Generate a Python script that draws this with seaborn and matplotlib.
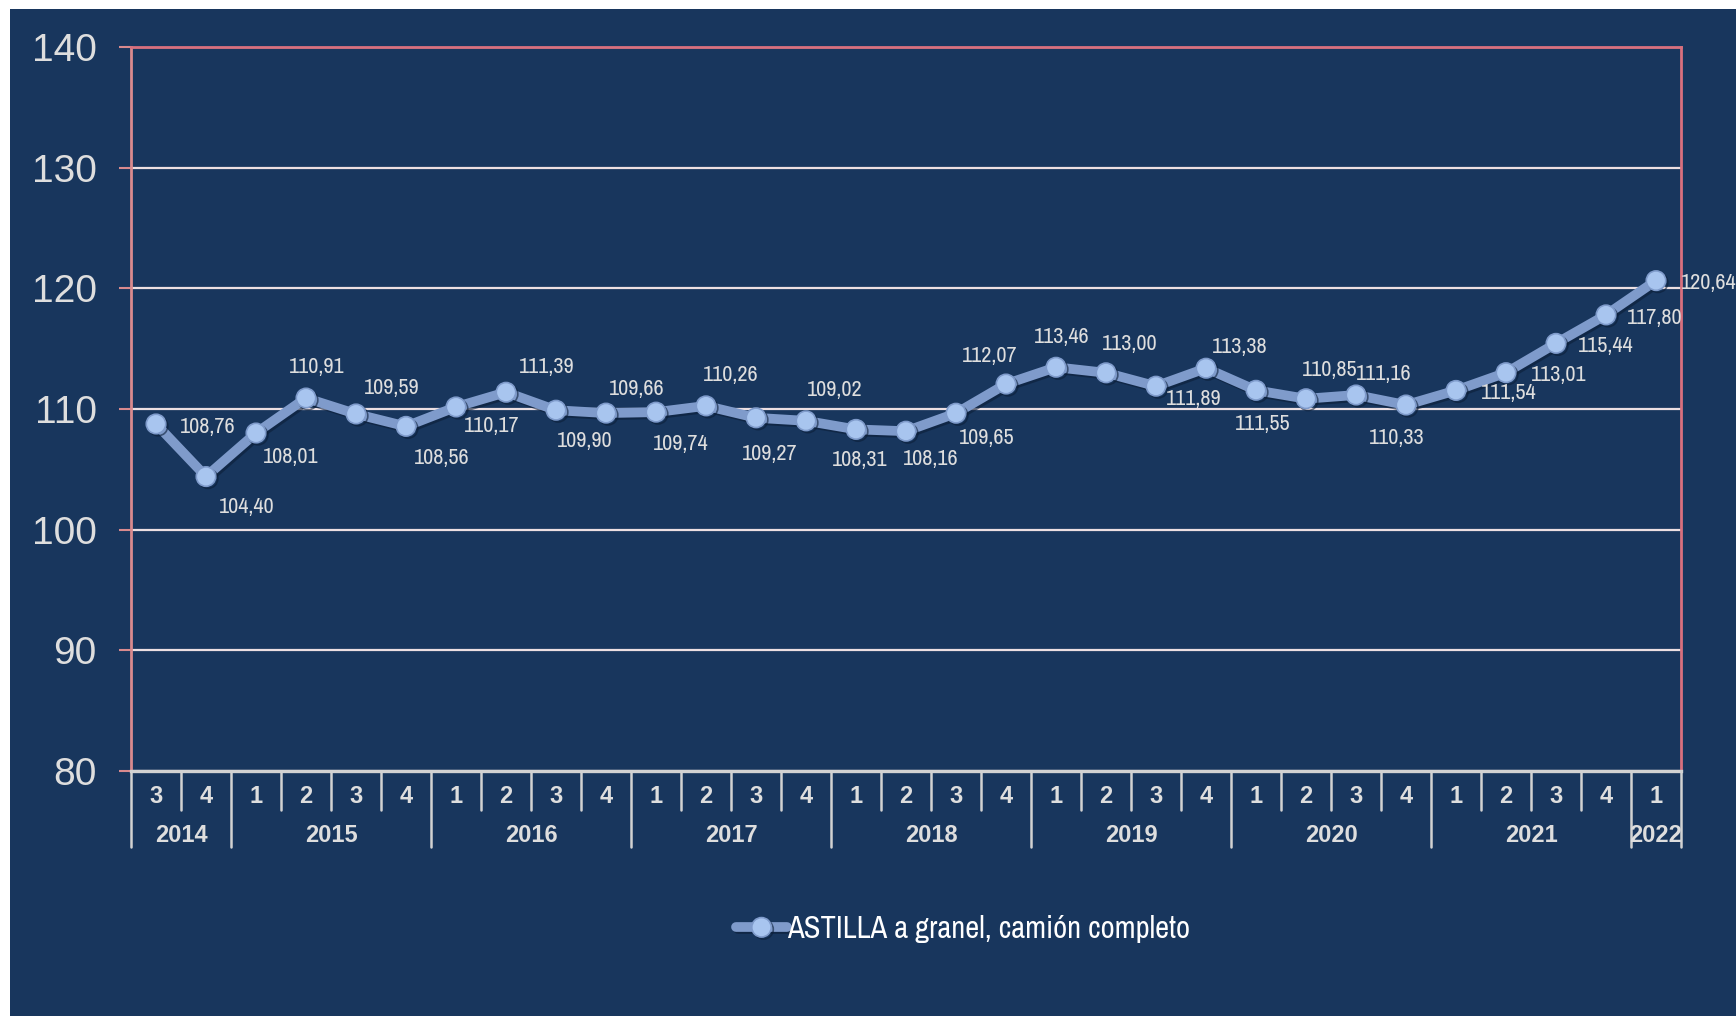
import numpy as np
import pandas as pd
import matplotlib
matplotlib.use('Agg')
import matplotlib.pyplot as plt
import matplotlib.patheffects as pe
from matplotlib import font_manager as fm
from matplotlib.patches import Rectangle
import seaborn as sns

# datos: índice trimestral astilla
serie = 'ASTILLA a granel, camión completo'
trimestres = ['3', '4'] + ['1', '2', '3', '4'] * 7 + ['1']
anios = ['2014'] * 2 + ['2015'] * 4 + ['2016'] * 4 + ['2017'] * 4 + ['2018'] * 4 \
        + ['2019'] * 4 + ['2020'] * 4 + ['2021'] * 4 + ['2022']
valores = [108.76, 104.40, 108.01, 110.91, 109.59, 108.56, 110.17, 111.39, 109.90, 109.66,
           109.74, 110.26, 109.27, 109.02, 108.31, 108.16, 109.65, 112.07, 113.46, 113.00,
           111.89, 113.38, 111.55, 110.85, 111.16, 110.33, 111.54, 113.01, 115.44, 117.80,
           120.64]
yticks = [80, 90, 100, 110, 120, 130, 140]

# desplazamiento de etiquetas (puntos)
label_offsets = [(37, -2), (29, -22), (25, -17), (8, 22), (26, 19), (26, -23), (26, -14),
                 (29, 18), (21, -22), (22, 17), (18, -23), (18, 22), (10, -26), (21, 22),
                 (3, -22), (18, -20), (22, -18), (-12, 20), (4, 22), (17, 21), (27, -9),
                 (24, 15), (5, -24), (17, 21), (20, 15), (-7, -24), (38, -2), (38, -2),
                 (36, -2), (35, -2), (38, -2)]

df = pd.DataFrame({'idx': np.arange(len(valores)), 'valor': valores,
                   'trimestre': trimestres, 'anio': anios})

navy = '#18365d'
linec = '#7f9bcb'
txt = '#dedede'

sns.set_style('dark')
plt.rcParams['font.family'] = ['Liberation Sans', 'DejaVu Sans']

# fuente estrecha para etiquetas y leyenda
nombres = {f.name for f in fm.fontManager.ttflist}
narrow = ['DejaVu Sans']
for n in ['Archivo Narrow', 'Fira Sans Condensed', 'Asap Condensed', 'Barlow Semi Condensed']:
    if n in nombres:
        narrow = [n, 'DejaVu Sans']
        break

fig = plt.figure(figsize=(17.36, 10.16), dpi=100, facecolor='white')
fig.patches.append(Rectangle((10 / 1736, 0), 1, 1 - 9 / 1016, transform=fig.transFigure,
                             facecolor=navy, edgecolor='none', zorder=-10))
ax = fig.add_axes([131 / 1736, 1 - 771 / 1016, 1550 / 1736, 724 / 1016])
ax.set_facecolor(navy)

sns.lineplot(data=df, x='idx', y='valor', ax=ax, color=linec, lw=7, marker='o',
             markersize=14, markerfacecolor='#a8c5ef', markeredgecolor='#7f9bcb',
             markeredgewidth=1.2, label=serie, zorder=5)
ax.lines[0].set_path_effects([pe.SimpleLineShadow(offset=(1.5, -1.5), shadow_color='#0b1e38', alpha=0.6),
                              pe.Normal()])

for i, v in enumerate(valores):
    ax.annotate(f'{v:.2f}'.replace('.', ','), (i, v), xytext=label_offsets[i],
                textcoords='offset points', ha='center', va='center',
                fontsize=16, color=txt, family=narrow, zorder=6, annotation_clip=False)

ax.set_xlim(-0.5, len(valores) - 0.5)
ax.set_ylim(80, 140)
ax.set_yticks(yticks)
ax.set_yticklabels([str(t) for t in yticks], fontsize=28, color=txt)
ax.tick_params(axis='y', length=8.6, width=1.5, color='#d88a8e', pad=16, left=True)
ax.yaxis.grid(True, color='#ecdfe2', lw=1.6)
ax.xaxis.grid(False)

ax.set_xticks(df['idx'])
ax.set_xticklabels(trimestres, fontsize=17, fontweight='bold', color=txt)
ax.tick_params(axis='x', length=0, pad=10)
ax.set_xlabel('')
ax.set_ylabel('')

ax.spines['left'].set_color('#d88a8e')
for s in ['top', 'right']:
    ax.spines[s].set_color('#d8707e')
ax.spines['bottom'].set_color('#d2d2d2')
for s in ax.spines.values():
    s.set_visible(True)
    s.set_linewidth(2)
ax.spines['bottom'].set_linewidth(2.4)

# eje de categorías de dos niveles
tr = ax.get_xaxis_transform()
h = 724.0
limites = [-0.5]
for k in range(1, len(anios)):
    if anios[k] != anios[k - 1]:
        limites.append(k - 0.5)
limites.append(len(anios) - 0.5)
for k in range(len(valores) + 1):
    x = k - 0.5
    largo = 76 / h if x in limites else 39 / h
    ax.plot([x, x], [0, -largo], transform=tr, color='#d2d2d2', lw=1.8, clip_on=False)
for a in dict.fromkeys(anios):
    xs = df.loc[df['anio'] == a, 'idx']
    ax.text(xs.mean(), -64 / h, a, transform=tr, ha='center', va='center',
            fontsize=17, fontweight='bold', color=txt)

leg = ax.legend(loc='center', bbox_to_anchor=(963 / 1736, 1 - 929 / 1016),
                bbox_transform=fig.transFigure, frameon=False, handlelength=1.7,
                handletextpad=0.0, prop={'family': narrow, 'size': 22})
for t in leg.get_texts():
    t.set_color('white')

fig.savefig('out.png', dpi=100, facecolor='white')
